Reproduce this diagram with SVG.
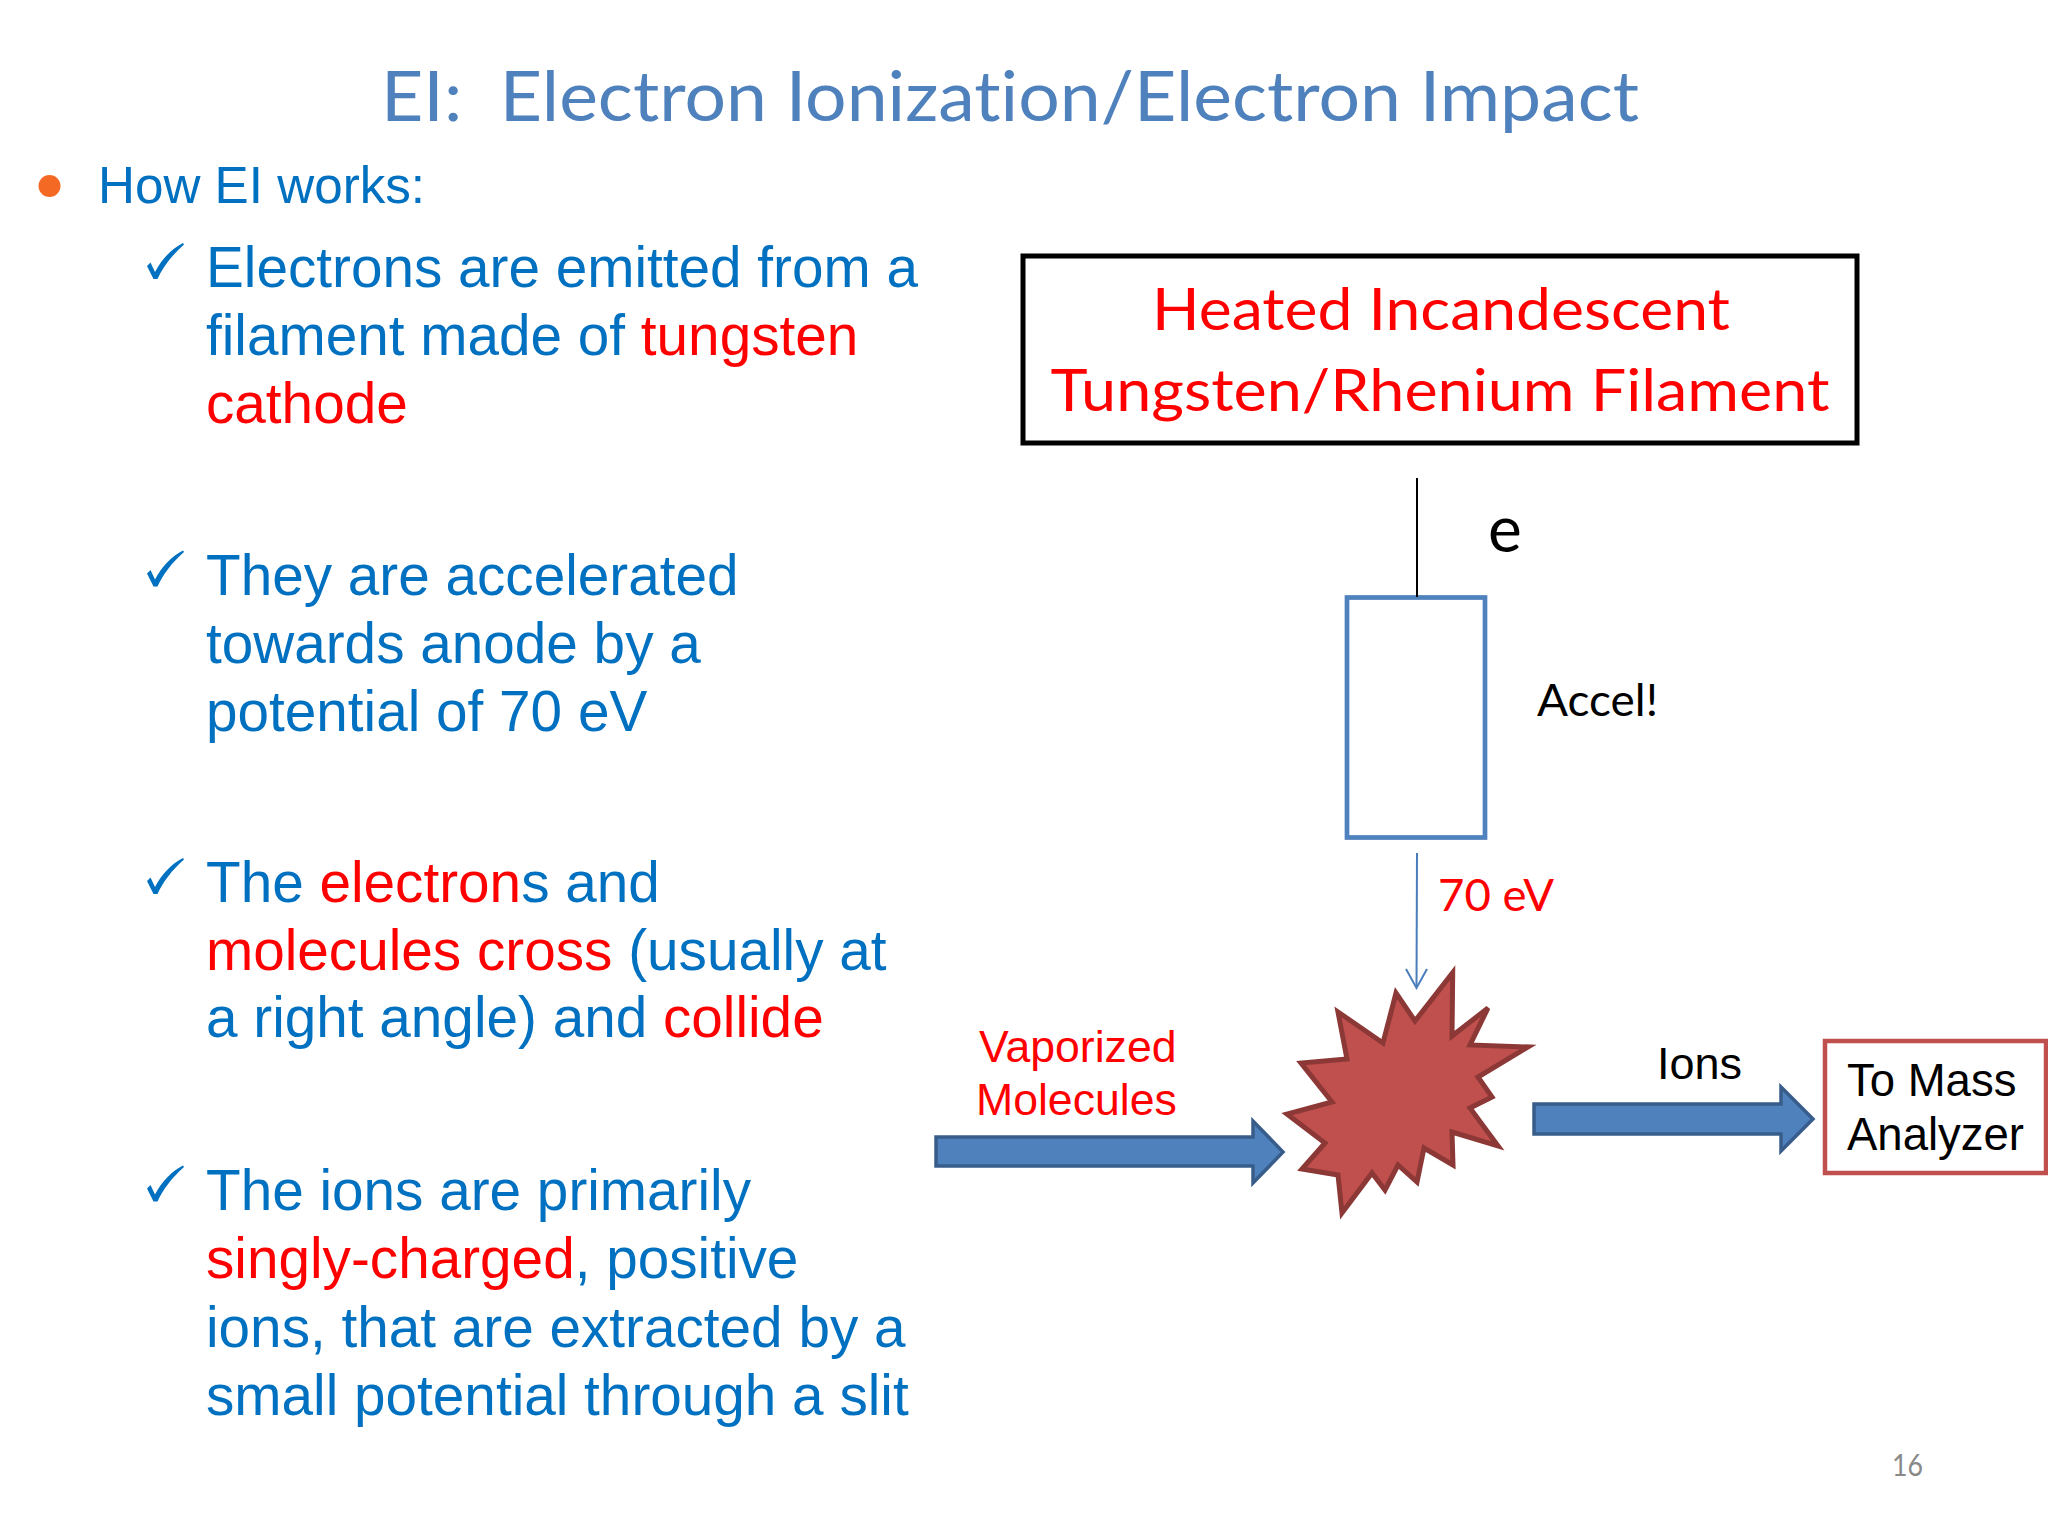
<svg xmlns="http://www.w3.org/2000/svg" xmlns:xlink="http://www.w3.org/1999/xlink" width="2048" height="1536" viewBox="0 0 2048 1536">
<style>
.cal{font-family:Lato,"Open Sans","Liberation Sans",sans-serif;font-variant-ligatures:none;}
.ari{font-family:"Liberation Sans",Arial,sans-serif;}
.body{font-size:56.7px;fill:#0070C0;}
.red{fill:#FF0000;}
.blk{fill:#000000;}
.blockarrow{fill:#4F81BD;stroke:#385D8A;stroke-width:3.5;stroke-linejoin:miter;}
</style>
<defs>
<path id="chk" d="M147,-21 L150.5,-24.5 L155,-15 C162,-28 171,-38 183,-44 L184,-42.5 C172,-32 163,-20 157.5,-8 L153.5,-8 Z" fill="#0070C0"/>
</defs>
<rect x="0" y="0" width="2048" height="1536" fill="#FFFFFF"/>

<g id="title">
<text class="cal" x="381" y="121" font-size="70" fill="#4F81BD" textLength="1258" lengthAdjust="spacingAndGlyphs" xml:space="preserve">EI:  Electron Ionization/Electron Impact</text>
</g>

<g id="bullet-main">
<circle cx="49.5" cy="186" r="11" fill="#F46A25"/>
<text class="ari" x="98" y="203" font-size="51.2" fill="#0070C0">How EI works:</text>
</g>

<g id="item1">
<use xlink:href="#chk" href="#chk" y="287"/>
<text class="ari body" x="206" y="287">Electrons are emitted from a</text>
<text class="ari body" x="206" y="355">filament made of <tspan class="red">tungsten</tspan></text>
<text class="ari body red" x="206" y="423">cathode</text>
</g>

<g id="item2">
<use xlink:href="#chk" href="#chk" y="594.5"/>
<text class="ari body" x="206" y="594.5">They are accelerated</text>
<text class="ari body" x="206" y="662.5">towards anode by a</text>
<text class="ari body" x="206" y="730.5">potential of 70 eV</text>
</g>

<g id="item3">
<use xlink:href="#chk" href="#chk" y="902"/>
<text class="ari body" x="206" y="902">The <tspan class="red">electron</tspan>s and</text>
<text class="ari body" x="206" y="969.5"><tspan class="red">molecules cross</tspan> (usually at</text>
<text class="ari body" x="206" y="1037">a right angle) and <tspan class="red">collide</tspan></text>
</g>

<g id="item4">
<use xlink:href="#chk" href="#chk" y="1209.5"/>
<text class="ari body" x="206" y="1209.5">The ions are primarily</text>
<text class="ari body" x="206" y="1278"><tspan class="red">singly-charged</tspan>, positive</text>
<text class="ari body" x="206" y="1346.5">ions, that are extracted by a</text>
<text class="ari body" x="206" y="1415">small potential through a slit</text>
</g>

<g id="filament">
<rect x="1023" y="256" width="834" height="187" fill="#FFFFFF" stroke="#000000" stroke-width="5"/>
<text class="cal" x="1441" y="330" font-size="58" fill="#FF0000" text-anchor="middle" textLength="578" lengthAdjust="spacingAndGlyphs">Heated Incandescent</text>
<text class="cal" x="1440" y="411" font-size="58" fill="#FF0000" text-anchor="middle" textLength="779" lengthAdjust="spacingAndGlyphs">Tungsten/Rhenium Filament</text>
</g>

<g id="electron-label">
<text class="cal blk" x="1488" y="552" font-size="64">e</text>
</g>

<g id="accelerator">
<rect x="1347" y="597.5" width="138" height="240" fill="#FFFFFF" stroke="#4F81BD" stroke-width="4.7"/>
<text class="cal blk" x="1537" y="716" font-size="45" textLength="121" lengthAdjust="spacingAndGlyphs">Accel!</text>
</g>

<g id="energy-label">
<text class="cal red" x="1438" y="911" font-size="44" textLength="116" lengthAdjust="spacingAndGlyphs">70 eV</text>
</g>

<g id="collision">
<path d="M1452.7,972.7 L1452,1036 L1488,1008 L1470,1045 L1528,1047 L1478,1077 L1492,1097 L1470,1108 L1498,1146 L1452,1132 L1453,1165 L1424,1148 L1417,1182 L1398,1165 L1385,1190 L1372,1173 L1342,1213 L1338,1175 L1302,1169 L1325,1143 L1287,1114 L1332,1102 L1301,1063 L1347,1059 L1338,1012 L1383,1043 L1396,993 L1415,1021 Z" fill="#C0504D" stroke="#8C3836" stroke-width="5" stroke-linejoin="miter"/>
</g>

<g id="molecules-label">
<text class="ari red" x="979" y="1062" font-size="44.6">Vaporized</text>
<text class="ari red" x="976" y="1115" font-size="44.6">Molecules</text>
</g>

<g id="ions-label">
<text class="ari blk" x="1657" y="1079" font-size="45">Ions</text>
</g>

<g id="mass-analyzer">
<rect x="1825" y="1041" width="221" height="132" fill="#FFFFFF" stroke="#C0504D" stroke-width="4.5"/>
<text class="ari blk" x="1847" y="1096" font-size="45.5">To Mass</text>
<text class="ari blk" x="1847" y="1150" font-size="45.5">Analyzer</text>
</g>

<g id="page-number">
<text class="cal" x="1892" y="1476" font-size="30" fill="#898989" textLength="31" lengthAdjust="spacingAndGlyphs">16</text>
</g>

<g id="connectors">
<line x1="1417" y1="478" x2="1417" y2="597" stroke="#000000" stroke-width="2"/>
<line x1="1417" y1="853" x2="1416.5" y2="987" stroke="#4A7EBB" stroke-width="2"/>
<polyline points="1406,969 1416.5,988 1427,969" fill="none" stroke="#4A7EBB" stroke-width="2"/>
<path class="blockarrow" d="M936,1137 L1253,1137 L1253,1121 L1283,1152 L1253,1183 L1253,1166 L936,1166 Z"/>
<path class="blockarrow" d="M1534,1104 L1781,1104 L1781,1087 L1813,1119 L1781,1151 L1781,1134 L1534,1134 Z"/>
</g>
</svg>
